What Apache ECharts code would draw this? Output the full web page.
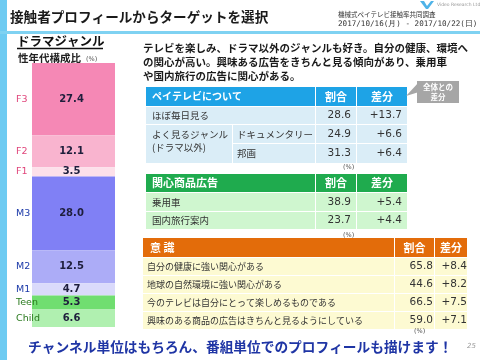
<!DOCTYPE html>
<html><head><meta charset="utf-8">
<script src="https://cdn.jsdelivr.net/npm/echarts@6/dist/echarts.min.js"></script>
<style>html,body{margin:0;padding:0;background:#fff}#c{width:480px;height:360px}</style>
</head><body><div id="c"></div>
<script>
// ---- data ----
const segLabels = ['F3','F2','F1','M3','M2','M1','Teen','Child'];
const segValues = [27.4, 12.1, 3.5, 28.0, 12.5, 4.7, 5.3, 6.6];
const segColors = ['#f588b5','#f9b4cf','#fde0ea','#8080f5','#acacf7','#dadafb','#70de70','#b0f0b0'];
const segLabelColors = ['#e0457b','#e0457b','#e0457b','#1c3aa9','#1c3aa9','#1c3aa9','#2a7a1e','#2a7a1e'];

const payTvRows = ['ほぼ毎日見る','ドキュメンタリー','邦画'];
const payTvRatio = [28.6, 24.9, 31.3];
const payTvDiff = ['+13.7','+6.6','+6.4'];

const adRows = ['乗用車','国内旅行案内'];
const adRatio = [38.9, 23.7];
const adDiff = ['+5.4','+4.4'];

const attRows = ['自分の健康に強い関心がある','地球の自然環境に強い関心がある','今のテレビは自分にとって楽しめるものである','興味のある商品の広告はきちんと見るようにしている'];
const attRatio = [65.8, 44.6, 66.5, 59.0];
const attDiff = ['+8.4','+8.2','+7.5','+7.1'];

const summaryLines = ['テレビを楽しみ、ドラマ以外のジャンルも好き。自分の健康、環境へ','の関心が高い。興味ある広告をきちんと見る傾向があり、乗用車','や国内旅行の広告に関心がある。'];

// ---- helpers ----
const JP = '"Noto Sans CJK JP", sans-serif';
const NUM = '"DejaVu Sans", sans-serif';
const G = [];
function rect(x,y,w,h,fill){ G.push({type:'rect', shape:{x,y,width:w,height:h}, style:{fill}, silent:true}); }
function text(x,y,t,o){ o=o||{}; G.push({type:'text', x:0, y:0, silent:true, style:{
  text:t, x:x, y:y, fill:o.fill||'#222',
  font:(o.italic?'italic ':'')+(o.bold?'bold ':'')+(o.size||10)+'px '+(o.family||JP),
  textAlign:o.align||'left', textVerticalAlign:'middle'}}); }

// page decoration
rect(0,0,7,360,'#6ecbf2');
rect(0,31,480,3,'#7fd2f2');
text(10,17,'接触者プロフィールからターゲットを選択',{bold:true,size:13.6,fill:'#1a1a1a'});
text(338,15,'機械式ペイテレビ接触率共同調査',{size:6.5,fill:'#333'});
text(338,24.5,'2017/10/16(月) - 2017/10/22(日)',{size:7.6,fill:'#333',family:'"DejaVu Sans Mono", monospace'});
G.push({type:'polygon', shape:{points:[[420,1],[424,1],[427,6],[431,1],[434,1],[428,9],[426,9]]}, style:{fill:'#4fb3e8'}, silent:true});
text(437,5,'Video Research Ltd.',{size:4.5,fill:'#999',family:NUM});

// left headings
text(17,41,'ドラマジャンル',{bold:true,size:12.5,fill:'#111'});
G.push({type:'line', shape:{x1:17,y1:48.5,x2:103,y2:48.5}, style:{stroke:'#111',lineWidth:1.3}, silent:true});
text(18,58,'性年代構成比',{bold:true,size:10.5,fill:'#222'});
text(86,59,'(%)',{size:6.5,fill:'#555',family:NUM});

// summary
summaryLines.forEach((s,i)=>text(143,48+i*14,s,{bold:true,size:10.5,fill:'#1a1a1a'}));

// table 1
const BLUE='#1ea3e6', LBLUE='#daedf7';
rect(146,87,169,19,BLUE); rect(316,87,40,19,BLUE); rect(357,87,50,19,BLUE);
text(152,96.5,'ペイテレビについて',{bold:true,size:10,fill:'#fff'});
text(336,96.5,'割合',{bold:true,size:11,fill:'#fff',align:'center'});
text(382,96.5,'差分',{bold:true,size:11,fill:'#fff',align:'center'});
const t1y=[107,125,144], t1h=[17,18,19];
rect(146,107,169,17,LBLUE);
rect(146,125,86,38,LBLUE);
rect(233,125,82,18,LBLUE); rect(233,144,82,19,LBLUE);
t1y.forEach((y,i)=>{ rect(316,y,40,t1h[i],LBLUE); rect(357,y,50,t1h[i],LBLUE); });
text(152,115.5,payTvRows[0],{size:9.5,fill:'#333'});
text(152,134,'よく見るジャンル',{size:9.5,fill:'#333'});
text(152,147,'(ドラマ以外)',{size:9.5,fill:'#333'});
text(237,134,payTvRows[1],{size:9.5,fill:'#333'});
text(237,153.5,payTvRows[2],{size:9.5,fill:'#333'});
t1y.forEach((y,i)=>{
  text(351,y+t1h[i]/2,payTvRatio[i].toFixed(1),{size:10.5,fill:'#333',family:NUM,align:'right'});
  text(402,y+t1h[i]/2,payTvDiff[i],{size:10.5,fill:'#333',family:NUM,align:'right'});
});
text(343,167.5,'(%)',{size:6.5,fill:'#555',family:NUM});

// callout
G.push({type:'polygon', shape:{points:[[419,82],[406,96],[419,92]]}, style:{fill:'#a6a6a6'}, silent:true});
rect(417,81,42,22,'#a6a6a6');
text(438,87.5,'全体との',{bold:true,size:7.5,fill:'#fff',align:'center'});
text(438,97,'差分',{bold:true,size:7.5,fill:'#fff',align:'center'});

// table 2
const GREEN='#1fab4e', LGREEN='#cff6cf';
rect(146,174,169,18,GREEN); rect(316,174,40,18,GREEN); rect(357,174,50,18,GREEN);
text(152,183,'関心商品広告',{bold:true,size:11,fill:'#fff'});
text(336,183,'割合',{bold:true,size:11,fill:'#fff',align:'center'});
text(382,183,'差分',{bold:true,size:11,fill:'#fff',align:'center'});
const t2y=[193,212], t2h=[18,17];
t2y.forEach((y,i)=>{
  rect(146,y,169,t2h[i],LGREEN); rect(316,y,40,t2h[i],LGREEN); rect(357,y,50,t2h[i],LGREEN);
  text(152,y+t2h[i]/2,adRows[i],{size:9.5,fill:'#333'});
  text(351,y+t2h[i]/2,adRatio[i].toFixed(1),{size:10.5,fill:'#333',family:NUM,align:'right'});
  text(402,y+t2h[i]/2,adDiff[i],{size:10.5,fill:'#333',family:NUM,align:'right'});
});
text(343,235.5,'(%)',{size:6.5,fill:'#555',family:NUM});

// table 3
const ORANGE='#e36c0a', LYEL='#fdfad2';
rect(143,238,251,19,ORANGE); rect(395,238,39,19,ORANGE); rect(435,238,32,19,ORANGE);
text(150,247.5,'意 識',{bold:true,size:11,fill:'#fff'});
text(414.5,247.5,'割合',{bold:true,size:11,fill:'#fff',align:'center'});
text(451,247.5,'差分',{bold:true,size:11,fill:'#fff',align:'center'});
const t3y=[258,276,294,312];
t3y.forEach((y,i)=>{
  rect(143,y,251,17,LYEL); rect(395,y,39,17,LYEL); rect(435,y,32,17,LYEL);
  text(147,y+8.5,attRows[i],{size:9,fill:'#333'});
  text(433,y+8.5,attRatio[i].toFixed(1),{size:10.5,fill:'#333',family:NUM,align:'right'});
  text(467,y+8.5,attDiff[i],{size:10.5,fill:'#333',family:NUM,align:'right'});
});
text(414,331,'(%)',{size:6.5,fill:'#555',family:NUM});

// footer
text(28,347,'チャンネル単位はもちろん、番組単位でのプロフィールも描けます！',{bold:true,size:13.7,fill:'#1f35a5'});
text(467,346,'25',{italic:true,size:7,fill:'#999',family:NUM});

// ---- chart ----
const series = segLabels.map((name,i)=>({
  name, type:'bar', stack:'all', barWidth:'100%',
  data:[segValues[i]],
  itemStyle:{color:segColors[i]},
  label:{show:true, position:[-16,'50%'], align:'left', verticalAlign:'middle',
    formatter:(p)=>'{n|'+name+'}{v|'+p.value.toFixed(1)+'}',
    rich:{
      n:{width:28, align:'left', fontSize:9.5, color:segLabelColors[i], fontFamily:NUM},
      v:{width:55, align:'center', fontSize:10, fontWeight:'bold', color:'#1e1e3c', fontFamily:NUM}
    }},
  silent:true, animation:false
}));

const chart = echarts.init(document.getElementById('c'), null, {renderer:'canvas'});
chart.setOption({
  animation:false,
  grid:{left:32, top:63, width:83, height:264},
  xAxis:{type:'category', data:['ドラマ'], show:false},
  yAxis:{type:'value', inverse:true, min:0, max:100.1, show:false},
  series,
  graphic:{elements:G}
});
</script></body></html>
